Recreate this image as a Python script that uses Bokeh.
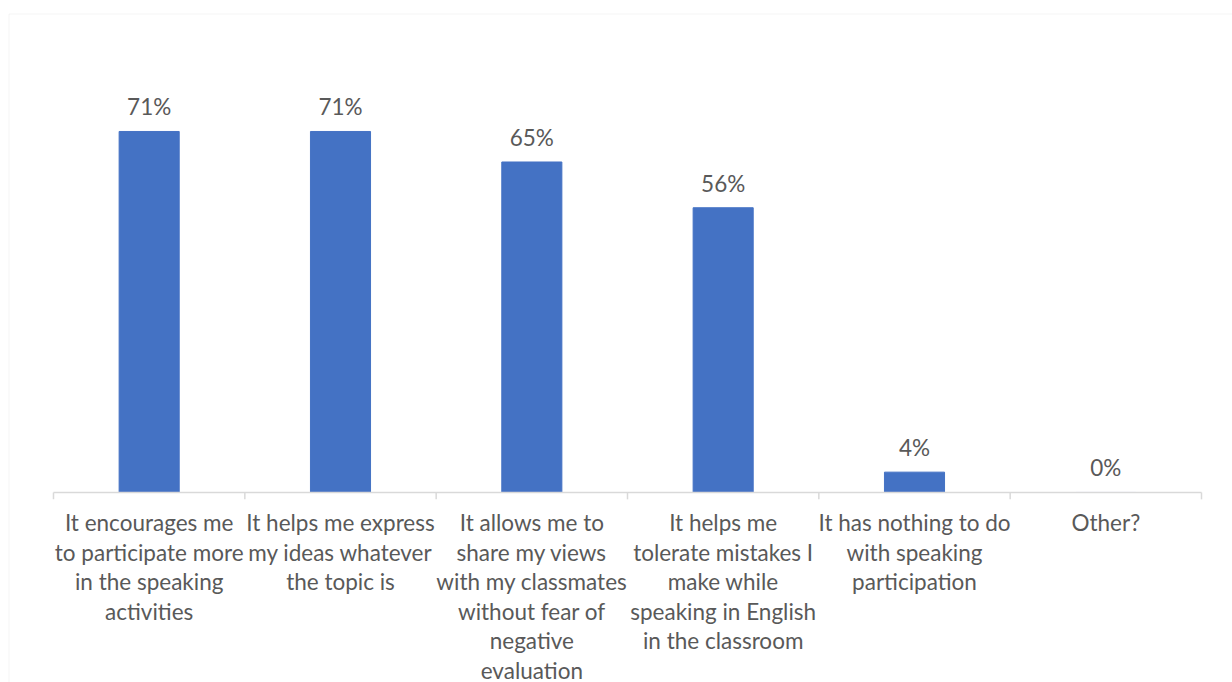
from bokeh.plotting import figure
from bokeh.models import Range1d, BoxAnnotation, ColumnDataSource
from bokeh.core.properties import value
from bokeh.embed import file_html
from bokeh.resources import INLINE

# Survey responses: share of students choosing each statement
categories = [
    "It encourages me\nto participate more\nin the speaking\nactivities",
    "It helps me express\nmy ideas whatever\nthe topic is",
    "It allows me to\nshare my views\nwith my classmates\nwithout fear of\nnegative\nevaluation",
    "It helps me\ntolerate mistakes I\nmake while\nspeaking in English\nin the classroom",
    "It has nothing to do\nwith speaking\nparticipation",
    "Other?",
]
percentages = [71, 71, 65, 56, 4, 0]

BAR_COLOR = "#4472C4"
TEXT_COLOR = "#595959"
LINE_COLOR = "#D9D9D9"
FONT = "Lato"

n = len(categories)
centers = [i + 0.5 for i in range(n)]
pct_labels = [f"{v}%" for v in percentages]

W, H = 1232, 682
p = figure(
    width=W, height=H,
    x_range=Range1d(-0.277, 6.162),
    y_range=Range1d(-37.37, 96.76),
    x_axis_location=None, y_axis_location=None,
    toolbar_location=None, output_backend="svg",
    min_border=0,
)
p.outline_line_color = None
p.grid.visible = False
p.background_fill_color = "white"
p.border_fill_color = "white"

# chart area border: only its top and left edges fall inside the canvas
# (screen y is measured upward from the bottom edge)
p.add_layout(BoxAnnotation(
    left=8.5, right=W + 20, top=H - 13.5, bottom=-20,
    left_units="screen", right_units="screen",
    top_units="screen", bottom_units="screen",
    fill_alpha=0, line_color=LINE_COLOR, line_width=1,
))

bars = ColumnDataSource(dict(x=centers, top=percentages, label=pct_labels, cat=categories))

p.vbar(x="x", top="top", bottom=0, width=0.314, color=BAR_COLOR, source=bars)

# category axis: baseline plus tick marks between categories
bounds = list(range(n + 1))
p.segment(x0=0, y0=0, x1=n, y1=0, line_color=LINE_COLOR, line_width=1.5)
p.segment(x0=bounds, y0=[0] * len(bounds), x1=bounds, y1=[-1.35] * len(bounds),
          line_color=LINE_COLOR, line_width=1.5)

# value labels above bars
p.text(x="x", y="top", text="label", source=bars,
       text_align="center", text_baseline="bottom", y_offset=-11,
       text_font=value(FONT), text_font_size="22.5px", text_color=TEXT_COLOR)

# category labels under the axis
p.text(x="x", y=0, text="cat", source=bars,
       text_align="center", text_baseline="top", y_offset=17,
       text_line_height=1.09,
       text_font=value(FONT), text_font_size="22.5px", text_color=TEXT_COLOR)

open("out.html", "w").write(file_html(p, INLINE))
